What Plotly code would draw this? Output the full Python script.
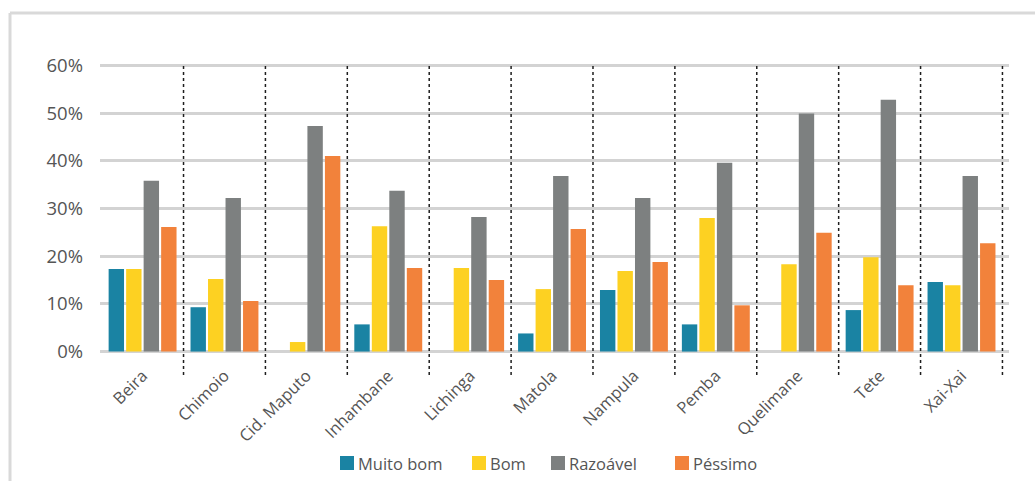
import plotly.graph_objects as go

# Cities and rating shares (%)
cidades = ["Beira", "Chimoio", "Cid. Maputo", "Inhambane", "Lichinga", "Matola",
           "Nampula", "Pemba", "Quelimane", "Tete", "Xai-Xai"]
muito_bom = [17.3, 9.3, 0.0, 5.7, 0.0, 3.8, 12.9, 5.7, 0.0, 8.7, 14.6]
bom = [17.3, 15.2, 2.0, 26.3, 17.5, 13.1, 16.9, 28.0, 18.3, 19.8, 13.9]
razoavel = [35.8, 32.2, 47.3, 33.7, 28.2, 36.8, 32.2, 39.6, 49.9, 52.8, 36.8]
pessimo = [26.1, 10.6, 41.0, 17.5, 15.0, 25.7, 18.8, 9.7, 24.9, 13.9, 22.7]

y_ticks = [0, 10, 20, 30, 40, 50, 60]
y_tick_text = ["0%", "10%", "20%", "30%", "40%", "50%", "60%"]

series = [
    ("Muito bom", muito_bom, "#1A83A3"),
    ("Bom", bom, "#FDD122"),
    ("Razoável", razoavel, "#7D8080"),
    ("Péssimo", pessimo, "#F2823B"),
]
# left edge (px) of each legend swatch
legend_left = [340, 472, 551, 675]

W, H = 1035, 481
ML, MR, MT, MB = 100, 26, 64, 128
plot_w = W - ML - MR
plot_h = H - MT - MB


def px_x(px):
    return (px - ML) / plot_w


def px_y(py):
    return (H - MB - py) / plot_h


fig = go.Figure()
for name, vals, color in series:
    fig.add_trace(go.Bar(
        name=name, x=list(range(len(cidades))), y=vals,
        marker=dict(color=color, line=dict(width=0)),
        showlegend=False,
    ))

shapes = []
annotations = []
# dotted separators between cities
for i in range(len(cidades)):
    shapes.append(dict(
        type="line", xref="x", yref="paper",
        x0=i + 0.5, x1=i + 0.5, y0=px_y(375), y1=px_y(65),
        line=dict(color="#1E1E1E", width=1.5, dash="dot"),
        layer="above",
    ))
# light frame on top and left
shapes.append(dict(type="line", xref="paper", yref="paper",
                   x0=px_x(10), x1=px_x(W + 5), y0=px_y(13), y1=px_y(13),
                   line=dict(color="#D9D9D9", width=3)))
shapes.append(dict(type="line", xref="paper", yref="paper",
                   x0=px_x(10), x1=px_x(10), y0=px_y(13), y1=px_y(H + 5),
                   line=dict(color="#D9D9D9", width=3)))

# legend: square swatch followed closely by its label
for (name, _, color), left in zip(series, legend_left):
    shapes.append(dict(type="rect", xref="paper", yref="paper",
                       x0=px_x(left), x1=px_x(left + 14),
                       y0=px_y(470), y1=px_y(456),
                       fillcolor=color, line=dict(width=0)))
    annotations.append(dict(
        xref="paper", yref="paper", x=px_x(left + 16), y=px_y(463),
        xanchor="left", yanchor="middle", showarrow=False, text=name,
        font=dict(size=16.5, color="#555555"),
    ))

fig.update_layout(
    width=W, height=H,
    margin=dict(l=ML, r=MR, t=MT, b=MB, pad=0),
    paper_bgcolor="white", plot_bgcolor="white",
    barmode="group", bargap=0.145, bargroupgap=0.12,
    font=dict(family="Open Sans, DejaVu Sans, sans-serif", color="#555555"),
    shapes=shapes,
    annotations=annotations,
    showlegend=False,
    xaxis=dict(
        range=[-0.52, 10.58],
        tickmode="array", tickvals=list(range(len(cidades))), ticktext=cidades,
        tickangle=-45, tickfont=dict(size=16.5, color="#555555"),
        showgrid=False, zeroline=False, showline=False, ticks="",
        ticklabelstandoff=9,
    ),
    yaxis=dict(
        range=[-0.3, 60.3],
        tickmode="array", tickvals=y_ticks, ticktext=y_tick_text,
        tickfont=dict(size=18.5, color="#555555"),
        showgrid=True, gridcolor="#D3D3D3", gridwidth=2.5,
        zeroline=True, zerolinecolor="#D3D3D3", zerolinewidth=3,
        showline=False, ticks="", ticklabelstandoff=16,
    ),
)

fig.write_html("out.html")
